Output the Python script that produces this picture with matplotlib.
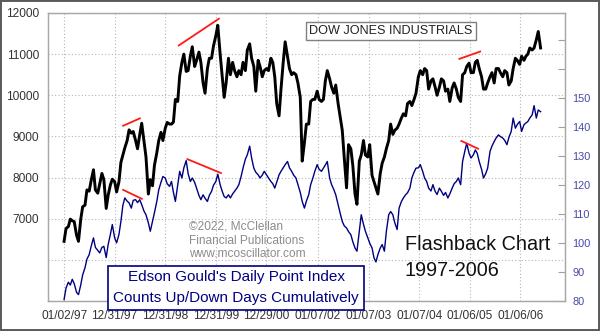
import pandas as pd
import matplotlib
matplotlib.use('Agg')
import matplotlib.pyplot as plt
from matplotlib.patches import Rectangle

plt.rcParams['font.family'] = ['Liberation Sans', 'DejaVu Sans']

# Semi-monthly samples (1st and 15th), Jan 1997 - Jun 2006
dates = pd.date_range('1997-01-01', '2006-06-01', freq='SMS')

djia = [
    # 1997
    6450, 6760, 6810, 6990, 6950, 6930, 6600, 6450, 6980, 7290, 7330, 7700,
    7670, 7920, 8190, 7700, 7620, 7850, 8100, 7950, 7250, 7570, 7820, 7960,
    # 1998
    7900, 7650, 7900, 8370, 8550, 8720, 8900, 9160, 9080, 9120, 8900, 8700,
    9050, 9320, 8880, 8500, 7600, 7950, 7800, 8300, 8600, 8900, 9100, 8900,
    # 1999
    9200, 9340, 9300, 9300, 9350, 9900, 9850, 10470, 10800, 11000, 10580, 10600,
    10950, 11180, 10700, 10850, 11050, 10800, 10300, 10050, 10650, 10900, 10900, 11200,
    # 2000
    11450, 11700, 11000, 10500, 9950, 10300, 10900, 10500, 10800, 10600, 10450, 10600,
    10500, 10800, 10600, 11100, 11250, 10900, 10700, 10100, 10850, 10700, 10450, 10600,
    # 2001
    10650, 10600, 10900, 10800, 10450, 9800, 9500, 10150, 10800, 11300, 10950, 10650,
    10500, 10550, 10500, 10300, 9950, 8400, 8850, 9300, 9300, 9850, 9900, 9900,
    # 2002
    10100, 9900, 9850, 9900, 10350, 10600, 10400, 10200, 10050, 10250, 9800, 9500,
    9150, 8500, 7750, 8800, 8700, 8300, 7600, 7350, 8400, 8550, 8900, 8550,
    # 2003
    8500, 8800, 8050, 7900, 7750, 7600, 8100, 8350, 8500, 8700, 8900, 9300,
    9050, 9150, 9200, 9300, 9450, 9550, 9500, 9800, 9850, 9750, 9900, 10050,
    # 2004
    10450, 10600, 10500, 10650, 10600, 10150, 10350, 10400, 10200, 10000, 10200, 10400,
    10350, 10100, 10150, 9850, 10180, 10300, 10150, 9950, 9850, 10500, 10550, 10700,
    # 2005
    10780, 10550, 10550, 10800, 10850, 10650, 10450, 10150, 10150, 10300, 10450, 10550,
    10300, 10650, 10650, 10550, 10450, 10600, 10550, 10250, 10350, 10650, 10900, 10850,
    # 2006
    10750, 10950, 10850, 10950, 11000, 11150, 11100, 11150, 11350, 11550, 11150,
]

point_index = [
    # 1997
    80.5, 84.5, 86.5, 85.5, 87.5, 86, 83, 82.2, 85.5, 89, 91.5, 94.5,
    96, 98.8, 101.8, 98.5, 97.5, 96.6, 98.5, 98.9, 95, 99.5, 103, 106.4,
    # 1998
    101.8, 100.1, 103, 107.5, 113, 115.6, 114.5, 113.9, 112.1, 114.8, 115.0, 114,
    115.0, 113.3, 111, 109.8, 107, 104.1, 107.5, 110.5, 114.4, 118.4, 121, 123,
    # 1999
    122.5, 120.5, 119.6, 121.3, 117.5, 114.4, 120.2, 124.8, 122.5, 126, 128.5, 124,
    121.3, 122.5, 121, 119, 116.5, 115, 116.7, 115.5, 114.4, 116.5, 117.9, 120,
    # 2000
    121.3, 123.8, 120.2, 118, 116.1, 115.6, 116.7, 115.6, 117, 117.9, 119, 120.2,
    123, 125.9, 129, 130.5, 133.5, 129.4, 125.9, 124.5, 123.6, 122.5, 123.5, 124.8,
    # 2001
    123.5, 122.5, 121.3, 120.5, 119, 121, 123.6, 124.8, 126, 127.1, 128.2, 126,
    124.8, 123.5, 122.5, 120.2, 117.5, 114.4, 112.1, 114.5, 116.7, 120.2, 122.5, 124.8,
    # 2002
    127.1, 125.5, 124.8, 125.9, 127, 128.2, 122.5, 120.2, 118.5, 116.7, 113.3, 110.5,
    107.5, 106, 105.2, 104, 102.9, 100.5, 98.3, 97.2, 104.1, 109.8, 106.5, 104.1,
    # 2003
    101.8, 100, 98.3, 94.9, 93.5, 96, 98.3, 99.5, 97.2, 104, 109.8, 110.9,
    109.8, 107, 104.7, 112.1, 114.4, 115.6, 116.7, 117.4, 119, 122.5, 124.5, 125.9,
    # 2004
    126, 127.1, 124.8, 122.5, 121.3, 119, 118, 120.2, 117.9, 116.8, 119, 117.9,
    116.5, 117.5, 115.6, 117, 119, 120.5, 121.3, 122.5, 120.2, 128.2, 131.7, 134.5,
    # 2005
    131, 129.4, 130.5, 132.2, 131, 128.2, 125.5, 122.5, 124, 125.9, 131.7, 133.5,
    135.1, 136.3, 137.4, 136.8, 136.3, 135.5, 134, 136.5, 138.6, 143.2, 139.7, 141,
    # 2006
    142, 138.6, 140.9, 141.5, 142, 143.2, 144.3, 147.5, 143.2, 146, 145.4,
]

# divergence trend lines: (start, end, start value, end value)
djia_trends = [
    ('1998-03-03', '1998-07-02', 9259, 9439),
    ('1999-04-08', '2000-01-23', 11210, 11861),
    ('2004-10-23', '2005-03-22', 10885, 11063),
]
index_trends = [
    ('1998-03-03', '1998-07-16', 118.4, 115.3),
    ('1999-06-10', '2000-02-07', 129.0, 124.2),
    ('2004-11-06', '2005-03-07', 135.3, 132.6),
]

xtick_dates = ['1997-01-02', '1997-12-31', '1998-12-31', '1999-12-31', '2000-12-29',
               '2002-01-07', '2003-01-07', '2004-01-07', '2005-01-06', '2006-01-06']
xtick_labels = ['01/02/97', '12/31/97', '12/31/98', '12/31/99', '12/29/00',
                '01/07/02', '01/07/03', '01/07/04', '01/06/05', '01/06/06']
left_ticks = [5000, 6000, 7000, 8000, 9000, 10000, 11000, 12000]
left_labels = ['', '', '7000', '8000', '9000', '10000', '11000', '12000']
right_ticks = [80, 90, 100, 110, 120, 130, 140, 150, 160, 170]
right_labels = ['80', '90', '100', '110', '120', '130', '140', '150', '', '']

W, H = 600, 331


def fx(px):
    return px / W


def fy(py):
    return 1 - py / H


fig = plt.figure(figsize=(6, 3.31), dpi=100)
ax = fig.add_axes([fx(48), fy(301), (565 - 48) / W, (301 - 13) / H])
ax2 = ax.twinx()

ax.plot(dates, djia, color='black', lw=2.1, zorder=3)
ax2.plot(dates, point_index, color='#000080', lw=1.0, zorder=3)

for d0, d1, v0, v1 in djia_trends:
    ax.plot(pd.to_datetime([d0, d1]), [v0, v1], color='#ff1a1a', lw=1.3, zorder=4)
for d0, d1, v0, v1 in index_trends:
    ax2.plot(pd.to_datetime([d0, d1]), [v0, v1], color='#ff1a1a', lw=1.3, zorder=4)

ax.set_xlim(pd.Timestamp('1996-09-07'), pd.Timestamp('2006-11-24'))
ax.set_ylim(5000, 12000)
ax2.set_ylim(80, 179.5)

ax.set_xticks(pd.to_datetime(xtick_dates))
ax.set_xticklabels(xtick_labels)
ax.set_yticks(left_ticks)
ax.set_yticklabels(left_labels)
ax2.set_yticks(right_ticks)
ax2.set_yticklabels(right_labels)

ax.tick_params(axis='x', length=0, pad=6.5, labelsize=8.6, labelcolor='#333333')
ax.tick_params(axis='y', length=0, pad=6.5, labelsize=8.6, labelcolor='#333333')
ax2.tick_params(axis='y', direction='in', length=5, width=0.8, color='#a0a0a0',
                pad=5.5, labelsize=7.9, labelcolor='#4848a8')

ax.grid(True, color='#b4b4b4', lw=0.8, linestyle=(0, (1, 2)))
ax.set_axisbelow(True)
for a in (ax, ax2):
    for s in a.spines.values():
        s.set_color('#a8a8a8')
        s.set_linewidth(0.9)

# labels and notes
fig.text(fx(391), fy(30.7), 'DOW JONES INDUSTRIALS', ha='center', va='center',
         fontsize=9.1, color='#222222',
         bbox=dict(boxstyle='square,pad=0.25', facecolor='white', edgecolor='#808080', lw=1))

fig.text(fx(405), fy(245), 'Flashback Chart', ha='left', va='center', fontsize=14.3, color='#111111')
fig.text(fx(405), fy(270), '1997-2006', ha='left', va='center', fontsize=14.3, color='#111111')

for py, line in zip([226.7, 240.7, 254.0],
                    ['\u00a92022, McClellan', 'Financial Publications', 'www.mcoscillator.com']):
    fig.text(fx(189), fy(py), line, ha='left', va='center', fontsize=8.6, color='#8c8c8c')

fig.add_artist(Rectangle((fx(108), fy(310)), (364 - 108) / W, (310 - 266) / H,
                         transform=fig.transFigure, facecolor='white',
                         edgecolor='#000080', lw=1.2, zorder=5))
fig.text(fx(236), fy(277.3), "Edson Gould's Daily Point Index", ha='center', va='center',
         fontsize=11, color='#000080', zorder=6)
fig.text(fx(236), fy(298.3), 'Counts Up/Down Days Cumulatively', ha='center', va='center',
         fontsize=11, color='#000080', zorder=6)

# outer frame
fig.add_artist(Rectangle((0, 0), 1, 1, transform=fig.transFigure, fill=False,
                         edgecolor='#5a5a5a', lw=2.8, zorder=10))

fig.savefig('out.png', dpi=100)
